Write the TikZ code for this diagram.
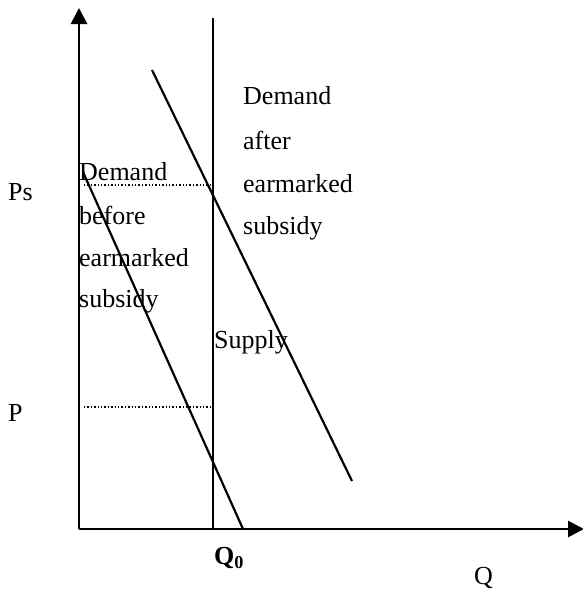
\documentclass[tikz,border=0pt]{standalone}
\usepackage{fontspec}
\setmainfont{Liberation Serif}
\usetikzlibrary{arrows.meta}

\tikzset{
  curve/.style={line width=2.2pt},
  axis/.style={line width=2.8pt,-{Triangle[length=16pt,width=16pt]}},
  guide/.style={line width=1.4pt,dotted},
  lbl/.style={inner sep=0pt,font=\fontsize{26}{30}\selectfont},
}

\begin{document}
\begin{tikzpicture}[x=1pt,y=-1pt]
\path[use as bounding box] (0,0) rectangle (583,592);
% axes
\coordinate (O) at (79,529);
\coordinate (ytop) at (79,8);
\coordinate (xend) at (584,529);
\draw[axis] (O)--(ytop);
\draw[axis] (O)--(xend);
% supply
\coordinate (s1) at (213,18);
\coordinate (s2) at (213,529);
\draw[curve] (s1)--(s2);
% demand curves
\coordinate (d1a) at (83,172);
\coordinate (d1b) at (243,529);
\draw[curve] (d1a)--(d1b);
\coordinate (d2a) at (152,70);
\coordinate (d2b) at (352,481);
\draw[curve] (d2a)--(d2b);
% price levels
\coordinate (ps1) at (84,185);
\coordinate (ps2) at (211,185);
\draw[guide] (ps1)--(ps2);
\coordinate (p1) at (84,407);
\coordinate (p2) at (211,407);
\draw[guide] (p1)--(p2);

\node[lbl,anchor=west] (Ps) at (8,192) {Ps};
\node[lbl,anchor=west] (P) at (8,413) {P};
\node[lbl,anchor=west,font=\bfseries\fontsize{26}{30}\selectfont] (Q0) at (214,558) {Q\textsubscript{0}};
\node[lbl,anchor=west] (Q) at (474,578) {Q};

\node[lbl,anchor=west] (bef1) at (79,172) {Demand};
\node[lbl,anchor=west] (bef2) at (79,215) {before};
\node[lbl,anchor=west] (bef3) at (79,258) {earmarked};
\node[lbl,anchor=west] (bef4) at (79,301) {subsidy};

\node[lbl,anchor=west] (aft1) at (243,96) {Demand};
\node[lbl,anchor=west] (aft2) at (243,140) {after};
\node[lbl,anchor=west] (aft3) at (243,184) {earmarked};
\node[lbl,anchor=west] (aft4) at (243,228) {subsidy};

\node[lbl,anchor=west] (sup) at (214,342) {Supply};
\end{tikzpicture}
\end{document}
